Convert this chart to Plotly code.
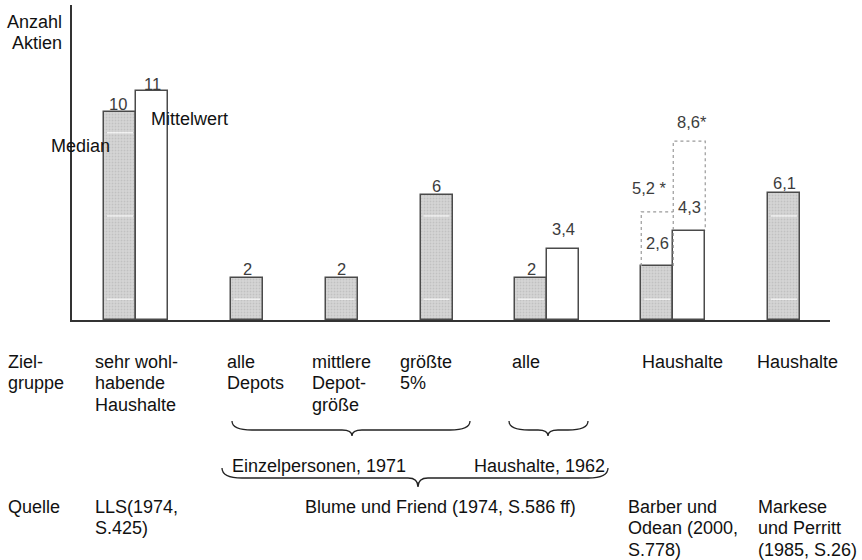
import plotly.graph_objects as go

# ---------------- data ----------------
groups = ["sehr wohlhabende Haushalte", "alle Depots", "mittlere Depotgröße", "größte 5%",
          "alle Haushalte 1962", "Haushalte (Barber/Odean)", "Haushalte (Markese/Perritt)"]
median_vals = [10, 2, 2, 6, 2, 2.6, 6.1]
mean_vals = [11, None, None, None, 3.4, 4.3, None]
median_star = [None, None, None, None, None, 5.2, None]
mean_star = [None, None, None, None, None, 8.6, None]
median_text = ["10", "2", "2", "6", "2", "2,6", "6,1"]
mean_text = ["11", None, None, None, "3,4", "4,3", None]
median_star_text = [None, None, None, None, None, "5,2 *", None]
mean_star_text = [None, None, None, None, None, "8,6*", None]

ziel_labels = [["sehr wohl-", "habende", "Haushalte"], ["alle", "Depots"], ["mittlere", "Depot-", "größe"],
               ["größte", "5%"], ["alle"], ["Haushalte"], ["Haushalte"]]
quelle_labels = [["LLS(1974,", "S.425)"], ["Blume und Friend (1974, S.586 ff)"],
                 ["Barber und", "Odean (2000,", "S.778)"], ["Markese", "und Perritt", "(1985, S.26)"]]
brace_labels = ["Einzelpersonen, 1971", "Haushalte, 1962"]

# ---------------- layout geometry (pixels) ----------------
W, H = 862, 560
L, R, T, B = 72, 32, 5, 240
PW, PH = W - L - R, H - T - B
YMAX = 15.14
group_pos = [64, 175, 269.5, 364.5, 475, 601.25, 712]
bar_w = 32
paired = [m is not None for m in mean_vals]
med_x = [g - bar_w / 2 if p else g for g, p in zip(group_pos, paired)]
mean_x = [g + bar_w / 2 for g, p in zip(group_pos, paired) if p]
mean_y = [m for m in mean_vals if m is not None]

FONT = "Liberation Sans, Arial, Helvetica, sans-serif"
BAR_EDGE = "#4a4a4a"
LINE_H = 21.3

def px(x):
    return (x - L) / PW

def py(y):
    return (T + PH - y) / PH

fig = go.Figure()

fig.add_trace(go.Bar(
    x=med_x, y=median_vals, width=bar_w, name="Median",
    marker=dict(color="#cdcdcd", line=dict(color=BAR_EDGE, width=1.5),
                pattern=dict(shape=".", fgcolor="#adadad", bgcolor="#d5d5d5", size=3, solidity=0.3)),
    showlegend=False))
fig.add_trace(go.Bar(
    x=mean_x, y=mean_y, width=bar_w, name="Mittelwert",
    marker=dict(color="white", line=dict(color=BAR_EDGE, width=1.5)),
    showlegend=False))

# dotted outline bars (values marked with *)
dot = dict(color="#9a9a9a", width=1.2, dash="3px,3px")
for i in range(len(groups)):
    if median_star[i] is not None and mean_star[i] is not None:
        xm0, xm1 = med_x[i] - bar_w / 2, med_x[i] + bar_w / 2
        xn1 = group_pos[i] + bar_w
        fig.add_trace(go.Scatter(
            x=[xm0, xm0, xm1, None, xm1, xm1, xn1, xn1],
            y=[median_vals[i], median_star[i], median_star[i], None,
               median_vals[i], mean_star[i], mean_star[i], mean_vals[i]],
            mode="lines", line=dot, showlegend=False, hoverinfo="skip"))

shapes = []
# faint white streaks inside the shaded bars
for xc, v in zip(med_x, median_vals):
    for lvl in (1, 5, 9):
        if lvl < v - 0.5:
            shapes.append(dict(type="line", xref="x", yref="y", x0=xc - bar_w / 2 + 3, x1=xc + bar_w / 2 - 3,
                               y0=lvl, y1=lvl, line=dict(color="rgba(255,255,255,0.85)", width=1.2),
                               layer="above"))

annotations = []
VAL_FONT = dict(family=FONT, size=16.5, color="#3c3c3c")
med_shift = [8, 9, 9, 9, 9, 23, 10]
med_xshift = [-2, 0, 0, 0, 0, 0, 0]
mean_shift = [7, None, None, None, 20, 24, None]
for i in range(len(groups)):
    annotations.append(dict(x=med_x[i], y=median_vals[i], xref="x", yref="y", text=median_text[i],
                            showarrow=False, yanchor="middle", yshift=med_shift[i], xshift=med_xshift[i],
                            font=VAL_FONT))
    if mean_vals[i] is not None:
        annotations.append(dict(x=group_pos[i] + bar_w / 2, y=mean_vals[i], xref="x", yref="y",
                                text=mean_text[i], showarrow=False, yanchor="middle", yshift=mean_shift[i],
                                font=VAL_FONT))
    if median_star[i] is not None:
        annotations.append(dict(x=med_x[i], y=median_star[i], xref="x", yref="y", text=median_star_text[i],
                                showarrow=False, yanchor="middle", yshift=24, xshift=-8, font=VAL_FONT))
    if mean_star[i] is not None:
        annotations.append(dict(x=group_pos[i] + bar_w / 2, y=mean_star[i], xref="x", yref="y",
                                text=mean_star_text[i], showarrow=False, yanchor="middle", yshift=19,
                                xshift=3, font=VAL_FONT))

TXT = dict(family=FONT, size=18, color="#111111")

def text(x, y, lines, anchor="left"):
    if isinstance(lines, str):
        lines = [lines]
    for k, s in enumerate(lines):
        annotations.append(dict(x=px(x), y=py(y + k * LINE_H), xref="paper", yref="paper", text=s,
                                showarrow=False, xanchor=anchor, yanchor="middle", font=TXT))

text(64, 22, ["Anzahl", "Aktien"], anchor="right")
text(49, 146, "Median")
text(149, 119, "Mittelwert")

row1 = 362
text(6, row1, ["Ziel-", "gruppe"])
for xx, s in zip([93, 225, 310, 398, 510, 640, 755], ziel_labels):
    text(xx, row1, s)

text(230, 466, brace_labels[0])
text(472, 466, brace_labels[1])

row2 = 507
text(6, row2, "Quelle")
for xx, s in zip([93, 303, 626, 756], quelle_labels):
    text(xx, row2, s)

def brace(x0, x1, xt, y0, ym, yt):
    r = 10
    pts = (f"M {px(x0)},{py(y0)} Q {px(x0)},{py(ym)} {px(x0 + r * 2)},{py(ym)} "
           f"L {px(xt - r)},{py(ym)} Q {px(xt)},{py(ym)} {px(xt)},{py(yt)} "
           f"Q {px(xt)},{py(ym)} {px(xt + r)},{py(ym)} "
           f"L {px(x1 - r * 2)},{py(ym)} Q {px(x1)},{py(ym)} {px(x1)},{py(y0)}")
    shapes.append(dict(type="path", xref="paper", yref="paper", path=pts,
                       line=dict(color="#222222", width=1.3)))

brace(232, 470, 352, 421, 430, 436)
brace(509, 588, 548, 421, 430, 436)
brace(222, 608, 418, 468, 478, 487)

fig.update_layout(
    width=W, height=H, margin=dict(l=L, r=R, t=T, b=B),
    paper_bgcolor="white", plot_bgcolor="white",
    barmode="overlay", bargap=0,
    xaxis=dict(range=[0, PW], showgrid=False, zeroline=False, showticklabels=False, ticks="",
               showline=True, linecolor="#333333", linewidth=1.5, fixedrange=True),
    yaxis=dict(range=[0, YMAX], showgrid=False, zeroline=False, showticklabels=False, ticks="",
               showline=True, linecolor="#333333", linewidth=1.5, fixedrange=True),
    shapes=shapes, annotations=annotations, showlegend=False,
    font=dict(family=FONT),
)

fig.write_html("out.html", config={"displayModeBar": False},
               post_script="document.body.style.margin='0';document.body.style.overflow='hidden';")
